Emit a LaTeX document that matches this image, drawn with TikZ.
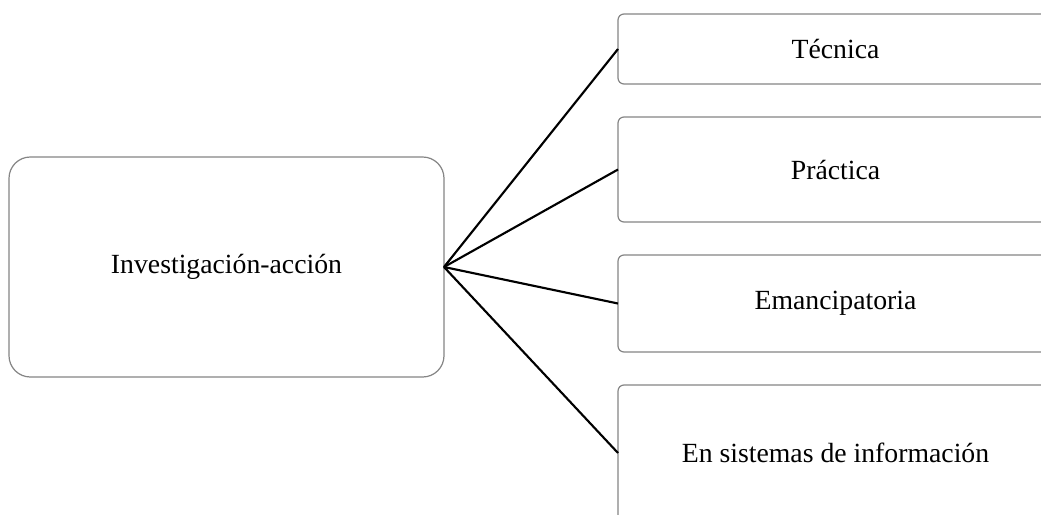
\documentclass[tikz,border=0pt]{standalone}
\usepackage{fontspec}
\setmainfont{Liberation Serif}
\begin{document}
\begin{tikzpicture}[x=0.75pt,y=-0.75pt,
  box/.style={draw=black!48, line width=0.9pt, fill=white, inner sep=0pt, outer sep=0pt,
    minimum width=326.25pt, font=\fontsize{20.8}{25}\selectfont},
  rootbox/.style={box, rounded corners=16pt, minimum height=165pt},
  leafbox/.style={box, rounded corners=4.5pt},
  link/.style={draw=black, line width=1.6pt}]
  \clip (0,0) rectangle (1041,514);
  \fill[white] (0,0) rectangle (1041,514);
  % central concept
  \node[rootbox] (root) at (226.5,267) {Investigación-acción};
  % branches (they run past the right edge)
  \node[leafbox, minimum height=52.5pt]  (tec) at (835.5,49)    {Técnica};
  \node[leafbox, minimum height=78.75pt] (pra) at (835.5,169.5) {Práctica};
  \node[leafbox, minimum height=72.75pt] (ema) at (835.5,303.5) {Emancipatoria};
  \node[leafbox, minimum height=102pt]   (sis) at (835.5,453)   {En sistemas de información};
  % connectors
  \foreach \t in {tec,pra,ema,sis}
    \draw[link] (root.east) -- (\t.west);
\end{tikzpicture}
\end{document}
